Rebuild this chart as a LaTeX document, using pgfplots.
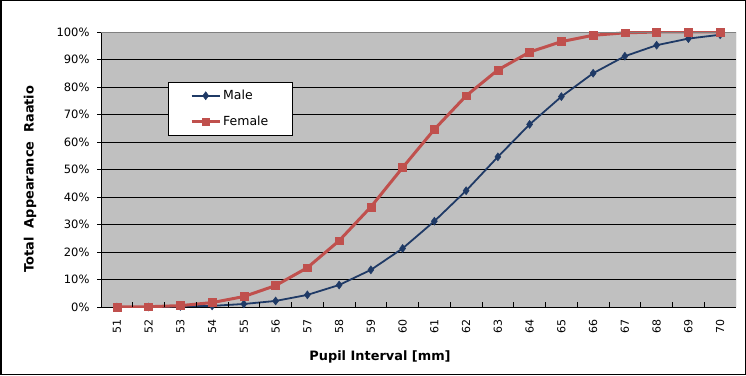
\documentclass[border=0pt]{standalone}
\usepackage{pgfplots}
\pgfplotsset{compat=1.18}
\usepackage{fontspec}
\setmainfont{DejaVu Sans}
\definecolor{plotgray}{RGB}{192,192,192}
\definecolor{edgegray}{RGB}{128,128,128}
\definecolor{male}{RGB}{31,58,102}
\definecolor{female}{RGB}{192,80,77}
\begin{document}
\begin{tikzpicture}[x=1pt,y=1pt]
\useasboundingbox (0,0) rectangle (746,375);
\fill[white] (0,0) rectangle (746,375);
\draw[line width=1.5pt] (0.75,0.75) rectangle (745.25,374.25);
\begin{axis}[
  at={(101pt,68pt)}, anchor=south west,
  width=635pt, height=275pt, scale only axis,
  xmin=-0.5, xmax=19.5, ymin=0, ymax=100,
  axis background/.style={fill=plotgray},
  axis x line*=bottom, axis y line*=left,
  axis line style={black, line width=0.9pt},
  xtick={0,...,19},
  xticklabels={51,52,53,54,55,56,57,58,59,60,61,62,63,64,65,66,67,68,69,70},
  xtick style={draw=none},
  x tick label style={rotate=90, anchor=east, font=\fontsize{11}{13}\selectfont, xshift=-5pt},
  ytick={0,10,...,100},
  yticklabels={0\%,10\%,20\%,30\%,40\%,50\%,60\%,70\%,80\%,90\%,100\%},
  ytick style={black, line width=0.8pt},
  tick align=outside, major tick length=4pt,
  y tick label style={font=\fontsize{11.5}{13}\selectfont, xshift=-4pt},
  ymajorgrids, grid style={black, line width=0.8pt},
  legend style={at={(rel axis cs:0.1055,0.818)}, anchor=north west,
    draw=black, fill=white, font=\fontsize{12.5}{14}\selectfont,
    inner xsep=22pt, inner ysep=6pt, row sep=11pt},
  legend cell align=left,
  legend image code/.code={
    \draw[#1,mark repeat=2,mark phase=2] plot coordinates {(0pt,0pt) (14pt,0pt) (28pt,0pt)};
  },
]
\addplot[color=male, line width=1.8pt, mark=diamond*, mark size=4pt,
  mark options={fill=male, draw=male, line width=0.5pt}]
coordinates {
(0,0) (1,0) (2,0.2) (3,0.4) (4,1.1) (5,2.2) (6,4.4) (7,8.0) (8,13.5) (9,21.3)
(10,31.2) (11,42.3) (12,54.6) (13,66.4) (14,76.5) (15,85.0) (16,91.2) (17,95.2) (18,97.6) (19,99.0)
};
\addlegendentry{Male}
\addplot[color=female, line width=3pt, mark=square*, mark size=3.9pt,
  mark options={fill=female, draw=female, line width=0.5pt}]
coordinates {
(0,0) (1,0.1) (2,0.5) (3,1.6) (4,3.8) (5,7.8) (6,14.3) (7,24.1) (8,36.4) (9,50.7)
(10,64.6) (11,76.8) (12,86.2) (13,92.7) (14,96.5) (15,98.8) (16,99.7) (17,100) (18,100) (19,100)
};
\addlegendentry{Female}
\draw[edgegray, line width=0.9pt] (rel axis cs:0,1) -- (rel axis cs:1,1) -- (rel axis cs:1,0);
\pgfplotsinvokeforeach{1,...,19}{
  \draw[black, line width=0.8pt] (axis cs:#1-0.5,0) -- ([yshift=5pt]axis cs:#1-0.5,0);
}
\end{axis}
\node[font=\bfseries\fontsize{12.9}{15}\selectfont] at (380,18) {Pupil Interval [mm]};
\node[rotate=90, font=\bfseries\fontsize{12.9}{15}\selectfont] at (30,196) {Total\ \ Appearance\ \ Raatio};
\end{tikzpicture}
\end{document}
